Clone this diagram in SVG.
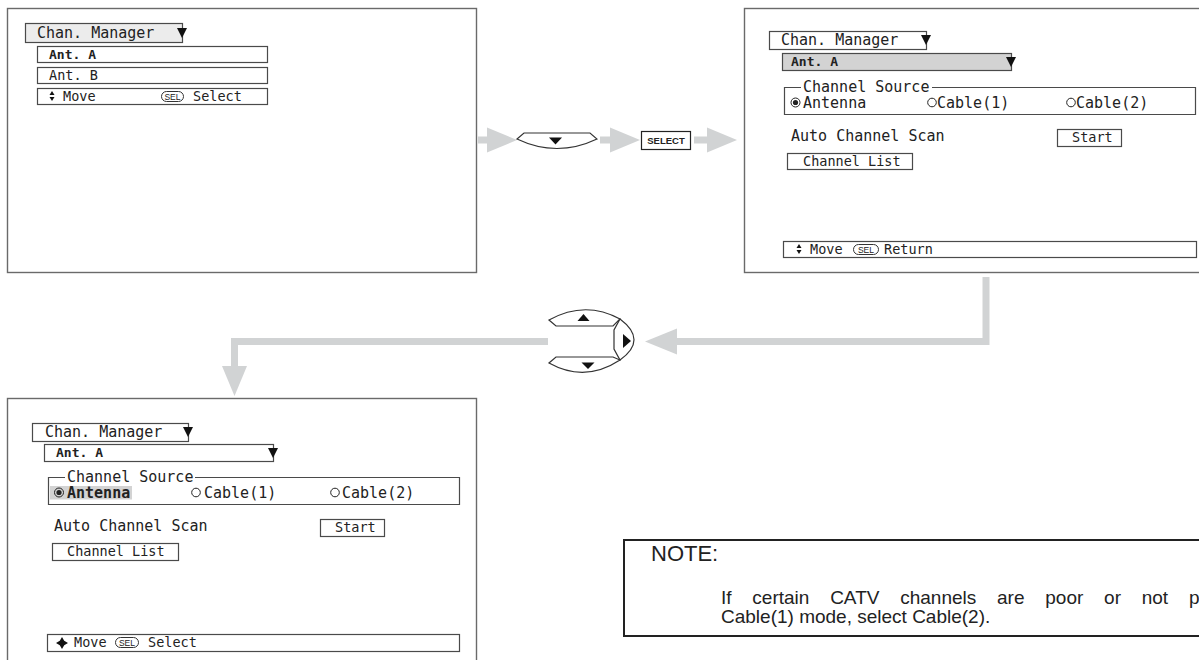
<svg xmlns="http://www.w3.org/2000/svg" width="1199" height="660" viewBox="0 0 1199 660">
<style>
.frame{fill:#fff;stroke:#6a6a6a;stroke-width:1.4}
.box{fill:#fff;stroke:#4a4a4a;stroke-width:1.2}
.gbox{fill:#ececec;stroke:#4a4a4a;stroke-width:1.2}
.dbox{fill:#d3d3d3;stroke:#4a4a4a;stroke-width:1.2}
.line{fill:none;stroke:#4a4a4a;stroke-width:1.2}
.m{font-family:"DejaVu Sans Mono",monospace;font-size:15px;fill:#222}
.s{font-family:"DejaVu Sans Mono",monospace;font-size:13.5px;fill:#222}
.b{font-family:"DejaVu Sans Mono",monospace;font-size:13px;font-weight:bold;fill:#222}
.sel{font-family:"Liberation Sans",Arial,sans-serif;font-size:8.5px;fill:#222;text-anchor:middle}
.pill{fill:none;stroke:#333;stroke-width:1}
.tri{fill:#111}
.gray{fill:#d1d3d4}
.gstroke{fill:none;stroke:#d1d3d4;stroke-width:7}
.btn{fill:#fff;stroke:#333;stroke-width:1.2}
.note{font-family:"Liberation Sans",Arial,sans-serif;fill:#222}
</style>

<g id="screen1">
<rect class="frame" x="7.5" y="8.5" width="469" height="264"/>
<rect class="gbox" x="25.5" y="23.5" width="157" height="19"/>
<text class="m" x="37" y="38">Chan. Manager</text>
<polygon class="tri" points="177,28 187,28 182,38"/>
<rect class="box" x="37.5" y="46.5" width="230" height="16"/>
<text class="b" x="49" y="59">Ant. A</text>
<rect class="box" x="37.5" y="67.5" width="230" height="16"/>
<text class="s" x="49" y="80">Ant. B</text>
<rect class="box" x="37.5" y="88.5" width="230" height="16"/>
<polygon class="tri" points="49.5,95 54.5,95 52,91"/>
<polygon class="tri" points="49.5,97 54.5,97 52,101"/>
<text class="s" x="63" y="101">Move</text>
<rect class="pill" x="161.5" y="91.5" width="22" height="10" rx="5"/>
<text class="sel" x="172.5" y="99.5">SEL</text>
<text class="s" x="193" y="101">Select</text>
</g>

<g id="screen2">
<rect class="frame" x="744.5" y="8.5" width="480" height="264"/>
<rect class="box" x="769.5" y="31.5" width="157" height="18"/>
<text class="m" x="781" y="45">Chan. Manager</text>
<polygon class="tri" points="921,35 931,35 926,45"/>
<rect class="dbox" x="782.5" y="53.5" width="229" height="17"/>
<polygon class="tri" points="1006,57 1016,57 1011,67"/>
<text class="b" x="791" y="66">Ant. A</text>
<path class="line" d="M801,87.5 H784.5 V114.5 H1195.5 V87.5 H932"/>
<text class="m" x="803" y="91.5">Channel Source</text>
<circle cx="795.5" cy="102.5" r="4.5" fill="none" stroke="#222" stroke-width="1"/>
<circle cx="795.5" cy="102.5" r="2.6" fill="#222"/>
<text class="m" x="803" y="107.5">Antenna</text>
<circle cx="932" cy="102.5" r="4.3" fill="none" stroke="#222" stroke-width="1"/>
<text class="m" x="937" y="107.5">Cable(1)</text>
<circle cx="1071" cy="102.5" r="4.3" fill="none" stroke="#222" stroke-width="1"/>
<text class="m" x="1076" y="107.5">Cable(2)</text>
<text class="m" x="791" y="141">Auto Channel Scan</text>
<rect class="box" x="1057.5" y="129.5" width="64" height="17"/>
<text class="s" x="1072" y="142">Start</text>
<rect class="box" x="787.5" y="153.5" width="125" height="16"/>
<text class="s" x="803" y="166">Channel List</text>
<rect class="box" x="783.5" y="241.5" width="413" height="16"/>
<polygon class="tri" points="796.5,248 801.5,248 799,244"/>
<polygon class="tri" points="796.5,250 801.5,250 799,254"/>
<text class="s" x="810" y="254">Move</text>
<rect class="pill" x="853.5" y="244.5" width="25" height="10" rx="5"/>
<text class="sel" x="866" y="252.5">SEL</text>
<text class="s" x="884" y="254">Return</text>
</g>

<g id="screen3">
<rect class="frame" x="7.5" y="398.5" width="469" height="280"/>
<rect class="box" x="32.5" y="423.5" width="156" height="18"/>
<text class="m" x="45" y="437">Chan. Manager</text>
<polygon class="tri" points="183,427 193,427 188,437"/>
<rect class="box" x="44.5" y="444.5" width="229" height="17"/>
<polygon class="tri" points="268,448 278,448 273,458"/>
<text class="b" x="56" y="457">Ant. A</text>
<path class="line" d="M65,477.5 H48.5 V504.5 H459.5 V477.5 H195"/>
<text class="m" x="67" y="481.5">Channel Source</text>
<rect x="50" y="486" width="82" height="13.5" fill="#d3d3d3"/>
<circle cx="59" cy="492.5" r="4.5" fill="none" stroke="#222" stroke-width="1"/>
<circle cx="59" cy="492.5" r="2.6" fill="#222"/>
<text class="m" x="67" y="497.5" font-weight="bold">Antenna</text>
<circle cx="196" cy="492.5" r="4.3" fill="none" stroke="#222" stroke-width="1"/>
<text class="m" x="204" y="497.5">Cable(1)</text>
<circle cx="335" cy="492.5" r="4.3" fill="none" stroke="#222" stroke-width="1"/>
<text class="m" x="342" y="497.5">Cable(2)</text>
<text class="m" x="54" y="531">Auto Channel Scan</text>
<rect class="box" x="320.5" y="519.5" width="64" height="17"/>
<text class="s" x="335" y="532">Start</text>
<rect class="box" x="52.5" y="543.5" width="126" height="17"/>
<text class="s" x="67" y="556">Channel List</text>
<rect class="box" x="47.5" y="634.5" width="412" height="17"/>
<polygon class="tri" points="62,637 64.2,640.8 68,643 64.2,645.2 62,649 59.8,645.2 56,643 59.8,640.8"/>
<text class="s" x="74" y="647">Move</text>
<rect class="pill" x="115.5" y="637.5" width="23" height="10" rx="5"/>
<text class="sel" x="127" y="645.5">SEL</text>
<text class="s" x="148" y="647">Select</text>
</g>

<g id="connectors">
<rect class="gray" x="478" y="136.5" width="12" height="7"/>
<polygon class="gray" points="487,127.5 517,140 487,152.5"/>
<rect class="gray" x="600" y="136.5" width="12" height="7"/>
<polygon class="gray" points="610,127.5 640,140 610,152.5"/>
<rect class="gray" x="694" y="136.5" width="16" height="7"/>
<polygon class="gray" points="707,127.5 737,140 707,152.5"/>
<polyline class="gstroke" points="548,341.5 234.5,341.5 234.5,368"/>
<polygon class="gray" points="222,366 247,366 234.5,396"/>
<polyline class="gstroke" points="986,277 986,341.5 675,341.5"/>
<polygon class="gray" points="677,328.5 677,354.5 645,341.5"/>
</g>

<g id="btn-down">
<path class="btn" d="M517,139 L524,133 H590 L597,139 Q557,158 517,139 Z"/>
<polygon class="tri" points="549,137.5 562,137.5 555.5,144.5"/>
</g>

<g id="btn-select">
<rect x="641.5" y="131.5" width="49" height="18" fill="#fff" stroke="#222" stroke-width="1.2"/>
<text x="666" y="144" font-family="Liberation Sans,Arial,sans-serif" font-size="9.5" font-weight="bold" fill="#222" text-anchor="middle">SELECT</text>
</g>

<g id="btn-pad">
<path class="btn" d="M549,320 Q585,300 620,319 L613,326 H556 Z"/>
<polygon class="tri" points="577.5,321 589.5,321 583.5,314"/>
<path class="btn" d="M549,363 Q585,383 620,360 L613,357 H556 Z"/>
<polygon class="tri" points="581.5,362.5 594.5,362.5 588,369"/>
<path class="btn" d="M620,319 Q648,340 620,360 L614,349 V330 Z"/>
<polygon class="tri" points="623,334 623,348 631,341"/>
</g>

<g id="note">
<rect x="624" y="540" width="600" height="96" fill="#fff" stroke="#222" stroke-width="2"/>
<text class="note" x="651" y="561" font-size="22">NOTE:</text>
<text class="note" x="721" y="604" font-size="19" word-spacing="15.5">If certain CATV channels are poor or not p</text>
<text class="note" x="721" y="623" font-size="19">Cable(1) mode, select Cable(2).</text>
</g>
</svg>
